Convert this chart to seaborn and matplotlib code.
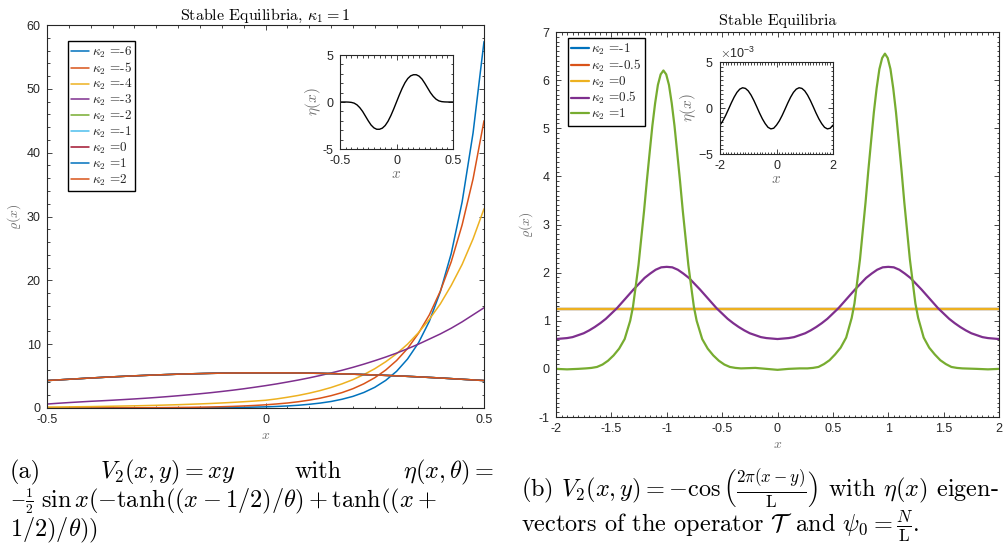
"""Two-panel stable-equilibria figure with insets and captions."""
import matplotlib

matplotlib.use("Agg")
import matplotlib.pyplot as plt  # noqa: E402
import numpy as np  # noqa: E402
import seaborn as sns  # noqa: E402
from matplotlib.ticker import FormatStrFormatter, MultipleLocator, ScalarFormatter  # noqa: E402

sns.set_theme(style="ticks")
plt.rcParams["font.family"] = ["Liberation Sans", "DejaVu Sans"]
plt.rcParams["mathtext.fontset"] = "cm"
plt.rcParams["axes.unicode_minus"] = False

# ---------------------------------------------------------------------------
# data, panel (a): x in [-0.5, 0.5], step 0.025
# ---------------------------------------------------------------------------
x_a = np.linspace(-0.5, 0.5, 41)
kappa_a = ["-6", "-5", "-4", "-3", "-2", "-1", "0", "1", "2"]
rho_a_m6 = [0.0006, 0.0008, 0.001, 0.0014, 0.0018, 0.0024, 0.0032, 0.0043, 0.0058, 0.0077,
            0.010, 0.014, 0.018, 0.024, 0.032, 0.043, 0.057, 0.077, 0.10, 0.14, 0.18,
            0.24, 0.32, 0.43, 0.58, 0.77, 1.02, 1.37, 1.82, 2.43, 3.24,
            4.32, 5.75, 7.67, 10.2, 13.6, 18.2, 24.2, 32.3, 43.1, 57.4]
rho_a_m5 = [0.0055, 0.0069, 0.0087, 0.011, 0.014, 0.017, 0.021, 0.027, 0.034, 0.042,
            0.053, 0.066, 0.083, 0.10, 0.13, 0.16, 0.20, 0.25, 0.32, 0.40, 0.50,
            0.63, 0.78, 0.98, 1.23, 1.54, 1.93, 2.41, 3.02, 3.79, 4.74,
            5.94, 7.44, 9.31, 11.7, 14.6, 18.3, 22.9, 28.7, 35.9, 45.0]
rho_a_m4 = [0.15, 0.16, 0.18, 0.20, 0.22, 0.25, 0.28, 0.31, 0.34, 0.38,
            0.42, 0.47, 0.52, 0.58, 0.64, 0.71, 0.79, 0.88, 0.98, 1.09, 1.21,
            1.42, 1.68, 1.97, 2.32, 2.73, 3.21, 3.78, 4.44, 5.23, 6.15,
            7.24, 8.5, 10.0, 11.8, 13.9, 16.3, 19.2, 22.5, 26.5, 31.2]
rho_a_m3 = [0.62, 0.74, 0.85, 0.95, 1.05, 1.13, 1.22, 1.32, 1.42, 1.53,
            1.65, 1.78, 1.92, 2.07, 2.23, 2.40, 2.59, 2.79, 3.01, 3.25, 3.50,
            3.77, 4.07, 4.38, 4.72, 5.09, 5.49, 5.91, 6.37, 6.87, 7.41,
            7.98, 8.60, 9.28, 10.0, 10.8, 11.6, 12.5, 13.5, 14.6, 15.7]
# kappa_2 = -2 ... 2 all sit on the same nearly flat profile
rho_a_flat = [4.30, 4.40, 4.50, 4.60, 4.70, 4.79, 4.88, 4.96, 5.04, 5.11,
              5.18, 5.24, 5.30, 5.35, 5.39, 5.43, 5.46, 5.48, 5.50, 5.50, 5.50,
              5.50, 5.50, 5.48, 5.46, 5.43, 5.39, 5.35, 5.30, 5.24, 5.18,
              5.11, 5.04, 4.96, 4.88, 4.79, 4.70, 4.60, 4.50, 4.40, 4.30]
eta_a = [0, 0, 0, -0.01, -0.04, -0.12, -0.3, -0.6, -1.0, -1.5,
         -2.0, -2.45, -2.75, -2.9, -2.9, -2.78, -2.5, -2.05, -1.45, -0.75, 0,
         0.75, 1.45, 2.05, 2.5, 2.78, 2.9, 2.9, 2.75, 2.45, 2.0,
         1.5, 1.0, 0.6, 0.3, 0.12, 0.04, 0.01, 0, 0, 0]

# ---------------------------------------------------------------------------
# data, panel (b): x in [-2, 2]
# ---------------------------------------------------------------------------
kappa_b = ["-1", "-0.5", "0", "0.5", "1"]
x_b_flat = [-2.0, 2.0]
rho_b_flat = [1.25, 1.25]  # kappa_2 = -1, -0.5, 0
x_b = np.linspace(-2, 2, 81)
rho_b_p05 = [0.62, 0.63, 0.64, 0.66, 0.70, 0.74, 0.80, 0.87, 0.95, 1.04,
             1.15, 1.26, 1.39, 1.52, 1.65, 1.77, 1.89, 1.98, 2.06, 2.11, 2.12,
             2.11, 2.06, 1.98, 1.89, 1.77, 1.65, 1.52, 1.39, 1.26, 1.15,
             1.04, 0.95, 0.87, 0.80, 0.74, 0.70, 0.66, 0.64, 0.63, 0.62,
             0.63, 0.64, 0.66, 0.70, 0.74, 0.80, 0.87, 0.95, 1.04, 1.15,
             1.26, 1.39, 1.52, 1.65, 1.77, 1.89, 1.98, 2.06, 2.11, 2.12,
             2.11, 2.06, 1.98, 1.89, 1.77, 1.65, 1.52, 1.39, 1.26, 1.15,
             1.04, 0.95, 0.87, 0.80, 0.74, 0.70, 0.66, 0.64, 0.63, 0.62]
x_b_green = [-2.0, -1.9, -1.8,
             -1.73, -1.68, -1.63, -1.58, -1.53, -1.48, -1.43, -1.38, -1.33, -1.305,
             -1.28, -1.255, -1.23, -1.205, -1.18, -1.155, -1.13, -1.105, -1.08, -1.055,
             -1.03, -1.005, -0.98, -0.955, -0.93, -0.905, -0.88, -0.855, -0.83, -0.805,
             -0.78, -0.755, -0.73, -0.68, -0.63, -0.58, -0.53, -0.48, -0.43, -0.38, -0.33,
             -0.2, -0.1, 0.0, 0.1, 0.2,
             0.27, 0.32, 0.37, 0.42, 0.47, 0.52, 0.57, 0.62, 0.67, 0.695,
             0.72, 0.745, 0.77, 0.795, 0.82, 0.845, 0.87, 0.895, 0.92, 0.945,
             0.97, 0.995, 1.02, 1.045, 1.07, 1.095, 1.12, 1.145, 1.17, 1.195,
             1.22, 1.245, 1.27, 1.32, 1.37, 1.42, 1.47, 1.52, 1.57, 1.62, 1.67,
             1.8, 1.9, 2.0]
rho_b_p1 = [0.0, -0.01, 0.0,
            0.01, 0.02, 0.04, 0.09, 0.17, 0.28, 0.42, 0.62, 1.0, 1.29,
            1.72, 2.16, 2.72, 3.28, 3.9, 4.48, 5.05, 5.52, 5.9, 6.12,
            6.2, 6.12, 5.9, 5.52, 5.05, 4.48, 3.9, 3.28, 2.72, 2.16,
            1.72, 1.29, 1.0, 0.62, 0.42, 0.28, 0.17, 0.09, 0.04, 0.02, 0.01,
            0.02, 0.0, -0.02, 0.0, 0.01,
            0.01, 0.02, 0.04, 0.10, 0.18, 0.30, 0.44, 0.65, 1.06, 1.36,
            1.82, 2.28, 2.87, 3.46, 4.12, 4.73, 5.33, 5.83, 6.23, 6.46,
            6.55, 6.46, 6.23, 5.83, 5.33, 4.73, 4.12, 3.46, 2.87, 2.28,
            1.82, 1.36, 1.06, 0.65, 0.44, 0.30, 0.18, 0.10, 0.04, 0.02, 0.01,
            0.0, -0.01, 0.0]
x_eta_b = np.linspace(-2, 2, 41)
eta_b_scale = 1e-3
eta_b = [-1.86, -1.40, -0.81, -0.14, 0.55, 1.18, 1.70, 2.05, 2.20, 2.13,
         1.86, 1.40, 0.81, 0.14, -0.55, -1.18, -1.70, -2.10, -2.27, -2.20, -1.86,
         -1.40, -0.81, -0.14, 0.55, 1.18, 1.70, 2.05, 2.20, 2.13,
         1.86, 1.40, 0.81, 0.14, -0.55, -1.18, -1.70, -2.10, -2.27, -2.20, -1.86]

matlab = ["#0072BD", "#D95319", "#EDB120", "#7E2F8E", "#77AC30", "#4DBEEE", "#A2142F"]
INK = "#262626"
LABEL = "#6e6e6e"
W, H = 1005, 543


def box(x0, y0, x1, y1):
    """pixel box (top-left origin) -> figure-fraction rect"""
    return [x0 / W, 1 - y1 / H, (x1 - x0) / W, (y1 - y0) / H]


def style_axes(ax, xmaj, xmin, ymaj, ymin, size=9, plain=True):
    ax.xaxis.set_major_locator(MultipleLocator(xmaj))
    ax.xaxis.set_minor_locator(MultipleLocator(xmin))
    ax.yaxis.set_major_locator(MultipleLocator(ymaj))
    ax.yaxis.set_minor_locator(MultipleLocator(ymin))
    ax.xaxis.set_major_formatter(FormatStrFormatter("%g"))
    if plain:
        ax.yaxis.set_major_formatter(FormatStrFormatter("%g"))
    ax.tick_params(which="both", direction="in", top=True, right=True,
                   colors=INK, labelsize=size, width=0.6, pad=4.5)
    ax.tick_params(which="major", length=3.5)
    ax.tick_params(which="minor", length=1.8)
    for s in ax.spines.values():
        s.set_visible(True)
        s.set_color(INK)
        s.set_linewidth(0.8)


def legend(ax, anchor):
    leg = ax.legend(loc="upper left", bbox_to_anchor=anchor, borderaxespad=0,
                    frameon=True, fancybox=False, framealpha=1, edgecolor="black",
                    prop={"family": "cmr10", "size": 9.5}, handlelength=1.35,
                    handletextpad=0.2, labelspacing=0.05, borderpad=0.25)
    leg.get_frame().set_linewidth(1.0)


fig = plt.figure(figsize=(W / 100, H / 100), dpi=100)

# ---------------------------------------------------------------------------
# panel (a)
# ---------------------------------------------------------------------------
ax = fig.add_axes(box(47, 25, 484, 408))
series_a = [rho_a_m6, rho_a_m5, rho_a_m4, rho_a_m3] + [rho_a_flat] * 5
for i, (k, rho) in enumerate(zip(kappa_a, series_a)):
    sns.lineplot(x=x_a, y=rho, ax=ax, color=matlab[i % 7], lw=1.1,
                 estimator=None, sort=False, label=rf"$\kappa_2$ ={k}")
ax.set_xlim(-0.5, 0.5)
ax.set_ylim(0, 60)
style_axes(ax, 0.5, 0.05, 10, 2)
ax.set_xlabel(r"$x$", color=LABEL, fontsize=10, labelpad=1)
ax.set_ylabel(r"$\varrho(x)$", color=LABEL, fontsize=10, labelpad=3)
ax.set_title(r"Stable Equilibria, $\kappa_1 = 1$", family="cmr10", fontsize=11.5,
             color="black", pad=3)
legend(ax, (0.048, 0.958))

ins = fig.add_axes(box(340, 55, 453, 149))
sns.lineplot(x=x_a, y=eta_a, ax=ins, color="black", lw=1.0, estimator=None, sort=False)
ins.set_xlim(-0.5, 0.5)
ins.set_ylim(-5, 5)
style_axes(ins, 0.5, 0.05, 5, 1)
ins.set_xlabel(r"$x$", color=LABEL, fontsize=11, labelpad=0)
ins.set_ylabel(r"$\eta(x)$", color=LABEL, fontsize=11, labelpad=0)

# ---------------------------------------------------------------------------
# panel (b)
# ---------------------------------------------------------------------------
bx = fig.add_axes(box(556, 32, 999, 417))
for i, k in enumerate(kappa_b[:3]):
    sns.lineplot(x=x_b_flat, y=rho_b_flat, ax=bx, color=matlab[i], lw=1.6,
                 estimator=None, sort=False, label=rf"$\kappa_2$ ={k}")
sns.lineplot(x=x_b, y=rho_b_p05, ax=bx, color=matlab[3], lw=1.6,
             estimator=None, sort=False, label=rf"$\kappa_2$ ={kappa_b[3]}")
sns.lineplot(x=x_b_green, y=rho_b_p1, ax=bx, color=matlab[4], lw=1.6,
             estimator=None, sort=False, label=rf"$\kappa_2$ ={kappa_b[4]}")
bx.set_xlim(-2, 2)
bx.set_ylim(-1, 7)
style_axes(bx, 0.5, 0.05, 1, 0.1)
bx.set_xlabel(r"$x$", color=LABEL, fontsize=10, labelpad=1)
bx.set_ylabel(r"$\varrho(x)$", color=LABEL, fontsize=10, labelpad=3)
bx.set_title("Stable Equilibria", family="cmr10", fontsize=11.5, color="black", pad=5)
legend(bx, (0.026, 0.984))

ins_b = fig.add_axes(box(720, 62, 833, 154))
sns.lineplot(x=x_eta_b, y=np.array(eta_b) * eta_b_scale, ax=ins_b, color="black",
             lw=1.0, estimator=None, sort=False)
ins_b.set_xlim(-2, 2)
ins_b.set_ylim(-5e-3, 5e-3)
style_axes(ins_b, 2, 0.1, 5e-3, 0.5e-3, plain=False)
fmt = ScalarFormatter(useMathText=True)
fmt.set_powerlimits((0, 0))
ins_b.yaxis.set_major_formatter(fmt)
ins_b.yaxis.get_offset_text().set_fontsize(9)
ins_b.yaxis.get_offset_text().set_color(INK)
ins_b.set_xlabel(r"$x$", color=LABEL, fontsize=11, labelpad=0)
ins_b.set_ylabel(r"$\eta(x)$", color=LABEL, fontsize=11, labelpad=0)

# ---------------------------------------------------------------------------
# captions
# ---------------------------------------------------------------------------
cap = dict(family="cmr10", fontsize=17.5, color="black", va="baseline")
fig.text(10 / W, 1 - 478 / H, "(a)", ha="left", **cap)
fig.text(100 / W, 1 - 478 / H, r"$V_2(x,y)=xy$", ha="left", **cap)
fig.text(295 / W, 1 - 478 / H, "with", ha="left", **cap)
fig.text(494 / W, 1 - 478 / H, r"$\eta(x,\theta)=$", ha="right", **cap)
fig.text(10 / W, 1 - 506 / H, r"$-\frac{1}{2}$", ha="left",
         **{**cap, "fontsize": 14})
fig.text(41 / W, 1 - 507 / H,
         r"$\sin x(-\tanh((x-1/2)/\theta)+\tanh((x+$", ha="left", **cap)
fig.text(10 / W, 1 - 536 / H, r"$1/2)/\theta))$", ha="left", **cap)

fig.text(521 / W, 1 - 497 / H,
         r"(b) $V_2(x,y)=-\cos\left(\frac{2\pi(x-y)}{\mathrm{L}}\right)$ with $\eta(x)$ eigen-",
         ha="left", **cap)
fig.text(521 / W, 1 - 531 / H,
         r"vectors of the operator $\mathcal{T}\,$ and $\psi_0=\frac{N}{\mathrm{L}}$.",
         ha="left", **cap)

fig.savefig("out.png", dpi=100)
plt.close(fig)
